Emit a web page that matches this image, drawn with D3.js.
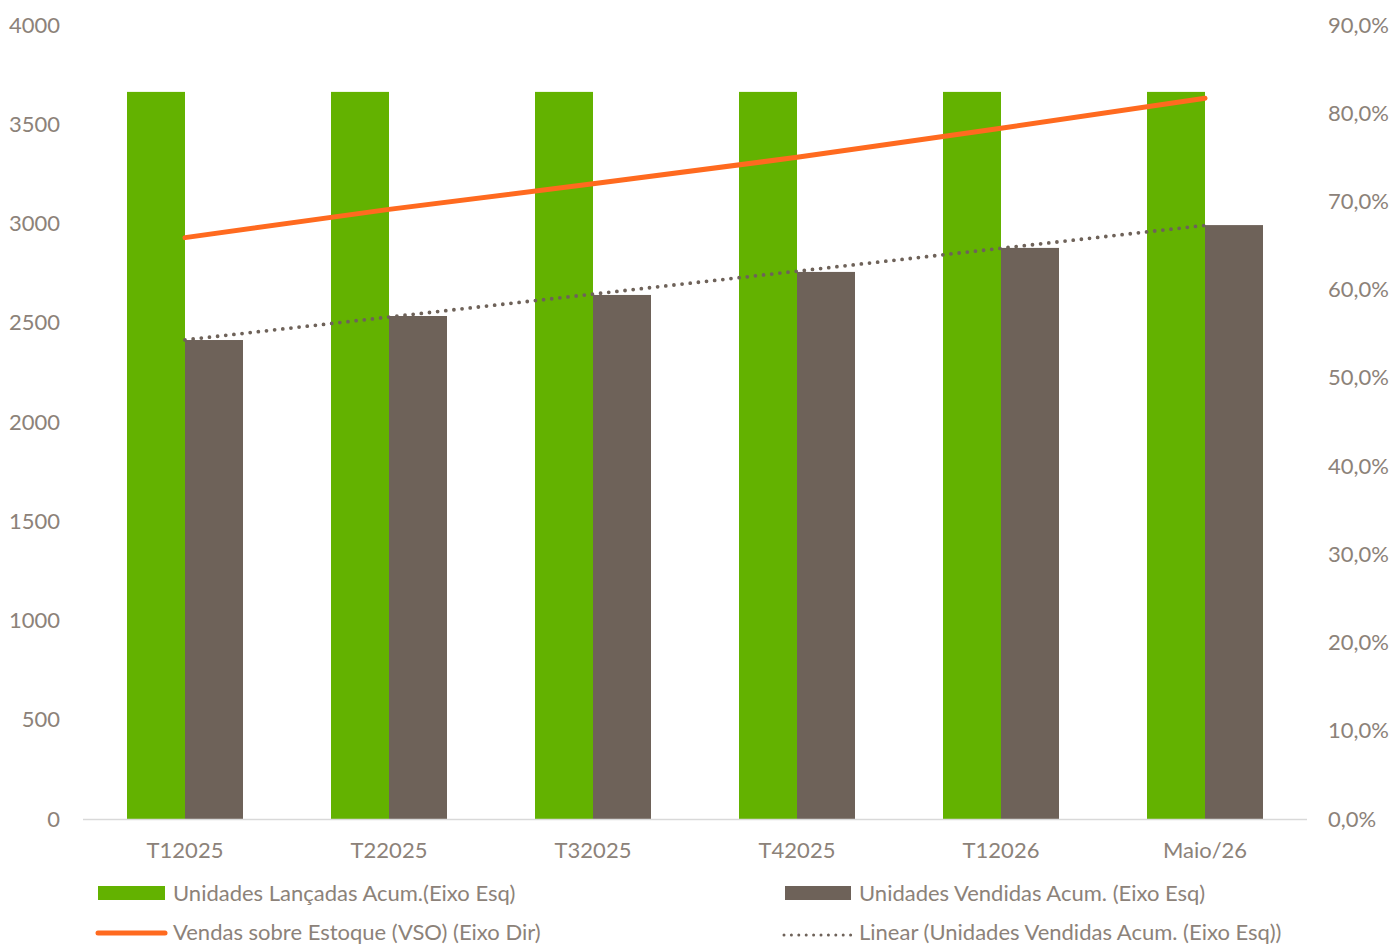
<!DOCTYPE html>
<html>
<head>
<meta charset="utf-8">
<script src="https://cdn.jsdelivr.net/npm/d3@7"></script>
<style>
  body { margin: 0; background: #fff; }
  text { font-family: Lato, "Open Sans", sans-serif; fill: #8c8279; }
</style>
</head>
<body>
<svg id="canvas" width="1389" height="946"></svg>
<script>
const categories = ['T12025', 'T22025', 'T32025', 'T42025', 'T12026', 'Maio/26'];
const lancadas = [3663, 3663, 3663, 3663, 3663, 3663];
const vendidas = [2413, 2534, 2640, 2756, 2877, 2992];
const vso = [0.659, 0.691, 0.720, 0.750, 0.783, 0.817];
const leftTicks = [0, 500, 1000, 1500, 2000, 2500, 3000, 3500, 4000];
const rightTicks = [0, 0.1, 0.2, 0.3, 0.4, 0.5, 0.6, 0.7, 0.8, 0.9];

const green = '#63b200';
const brown = '#6e6259';
const orange = '#ff6a1f';
const fs = '22px';

let canvas = d3.select('#canvas');

const plotLeft = 83, plotRight = 1307, plotTop = 25, plotBottom = 819;

let x = d3.scaleBand().domain(categories).range([plotLeft, plotRight]);
let yL = d3.scaleLinear().domain([0, 4000]).range([plotBottom, plotTop]);
let yR = d3.scaleLinear().domain([0, 0.9]).range([plotBottom, plotTop]);
const barW = 58;
const cx = (c) => x(c) + x.bandwidth() / 2;

// left axis labels
canvas.append('g')
  .attr('transform', 'translate(60,0)')
  .call(d3.axisLeft(yL).tickValues(leftTicks).tickSize(0).tickPadding(0).tickFormat(d3.format('d')))
  .call(g => g.select('.domain').remove())
  .selectAll('text').style('font-size', fs).attr('fill', '#8c8279');

// right axis labels
canvas.append('g')
  .attr('transform', 'translate(1328,0)')
  .call(d3.axisRight(yR).tickValues(rightTicks).tickSize(0).tickPadding(0)
    .tickFormat(d => d3.format('.1f')(d * 100).replace('.', ',') + '%'))
  .call(g => g.select('.domain').remove())
  .selectAll('text').style('font-size', fs).attr('fill', '#8c8279');

// bars
canvas.selectAll('rect.lanc')
  .data(categories)
  .enter()
  .append('rect')
  .attr('class', 'lanc')
  .attr('x', (c) => cx(c) - barW)
  .attr('y', (c, i) => yL(lancadas[i]))
  .attr('width', barW)
  .attr('height', (c, i) => yL(0) - yL(lancadas[i]))
  .attr('fill', green);

canvas.selectAll('rect.vend')
  .data(categories)
  .enter()
  .append('rect')
  .attr('class', 'vend')
  .attr('x', (c) => cx(c))
  .attr('y', (c, i) => yL(vendidas[i]))
  .attr('width', barW)
  .attr('height', (c, i) => yL(0) - yL(vendidas[i]))
  .attr('fill', brown);

// baseline
canvas.append('line')
  .attr('x1', plotLeft).attr('x2', plotRight)
  .attr('y1', plotBottom + 0.5).attr('y2', plotBottom + 0.5)
  .attr('stroke', '#d9d9d9').attr('stroke-width', 1.5);

// category labels
canvas.append('g')
  .attr('transform', 'translate(0,' + plotBottom + ')')
  .call(d3.axisBottom(x).tickSize(0).tickPadding(23))
  .call(g => g.select('.domain').remove())
  .selectAll('text').style('font-size', fs).attr('fill', '#8c8279');

// linear trendline (least squares of vendidas)
let n = vendidas.length;
let xs = d3.range(n);
let mx = d3.mean(xs), my = d3.mean(vendidas);
let slope = d3.sum(xs, i => (i - mx) * (vendidas[i] - my)) / d3.sum(xs, i => (i - mx) * (i - mx));
let icpt = my - slope * mx;
canvas.append('line')
  .attr('x1', cx(categories[0])).attr('y1', yL(icpt))
  .attr('x2', cx(categories[n - 1])).attr('y2', yL(icpt + slope * (n - 1)))
  .attr('stroke', brown).attr('stroke-width', 3.8)
  .attr('stroke-dasharray', '0 8.2').attr('stroke-linecap', 'round');

// VSO line
canvas.append('path')
  .datum(vso)
  .attr('d', d3.line().x((d, i) => cx(categories[i])).y(d => yR(d)))
  .attr('fill', 'none')
  .attr('stroke', orange)
  .attr('stroke-width', 5)
  .attr('stroke-linecap', 'round');

// legend
let lg = canvas.append('g');
lg.append('rect').attr('x', 98).attr('y', 886).attr('width', 67).attr('height', 14).attr('fill', green);
lg.append('text').attr('x', 173).attr('y', 901).style('font-size', fs).text('Unidades Lançadas Acum.(Eixo Esq)');
lg.append('rect').attr('x', 785).attr('y', 886).attr('width', 66).attr('height', 14).attr('fill', brown);
lg.append('text').attr('x', 859).attr('y', 901).style('font-size', fs).text('Unidades Vendidas Acum. (Eixo Esq)');
lg.append('line').attr('x1', 98).attr('x2', 165).attr('y1', 933).attr('y2', 933)
  .attr('stroke', orange).attr('stroke-width', 5).attr('stroke-linecap', 'round');
lg.append('text').attr('x', 173).attr('y', 940).style('font-size', fs).text('Vendas sobre Estoque (VSO) (Eixo Dir)');
lg.append('line').attr('x1', 784).attr('x2', 851).attr('y1', 935).attr('y2', 935)
  .attr('stroke', brown).attr('stroke-width', 3).attr('stroke-dasharray', '0 7.4').attr('stroke-linecap', 'round');
lg.append('text').attr('x', 859).attr('y', 940).style('font-size', fs).text('Linear (Unidades Vendidas Acum. (Eixo Esq))');
</script>
</body>
</html>
